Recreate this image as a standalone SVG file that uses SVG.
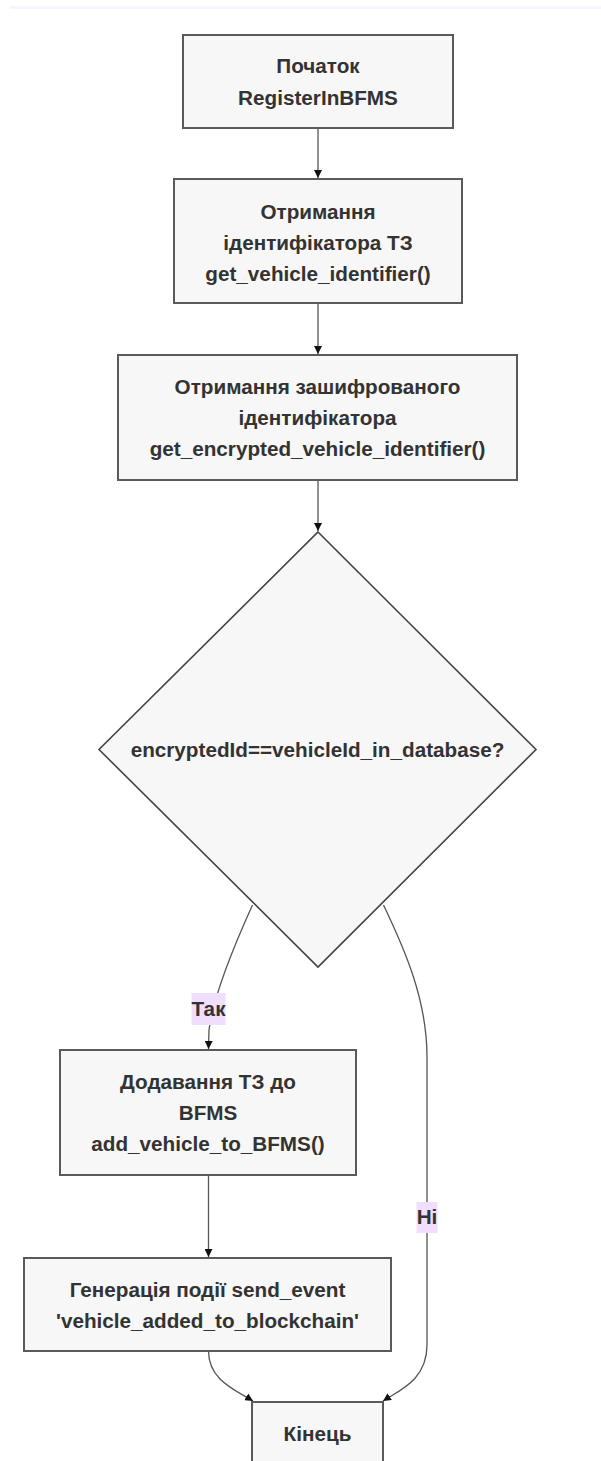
<svg xmlns="http://www.w3.org/2000/svg" width="601" height="1461" viewBox="0 0 601 1461">
  <style>
    .node rect, .node polygon { fill: #f7f7f7; stroke: #5a5a5a; stroke-width: 2; }
    .node polygon { stroke: #444; stroke-width: 1.6; }
    .node text, .label text { font-family: "Liberation Sans", Arial, sans-serif; font-weight: bold; font-size: 20.7px; fill: #333; text-anchor: middle; }
    .edge { fill: none; stroke: #555; stroke-width: 1.3; marker-end: url(#arrow); }
    .label rect { fill: #f1defc; }
  </style>
  <defs>
    <marker id="arrow" viewBox="0 0 10 10" refX="10" refY="5" markerWidth="8" markerHeight="8" markerUnits="userSpaceOnUse" orient="auto">
      <path d="M0,0 L10,5 L0,10 z" fill="#111"/>
    </marker>
  </defs>

  <rect x="0" y="0" width="601" height="1461" fill="#ffffff"/>
  <rect x="10" y="6" width="591" height="3" fill="#f5f7fe"/>

  <!-- connectors -->
  <g id="edges">
    <path class="edge" d="M318,128 L318,178"/>
    <path class="edge" d="M318,303 L318,354"/>
    <path class="edge" d="M318,480 L318,531"/>
    <path class="edge" d="M252.5,905 Q214,990 209,1030 L208.5,1049"/>
    <path class="edge" d="M208.5,1175 L208.5,1257"/>
    <path class="edge" d="M383.5,905 C405,950 427,1000 427,1057 L427,1345 C427,1380 400,1390 383,1401"/>
    <path class="edge" d="M208.5,1351 C208.5,1380 235,1390 253,1401"/>
  </g>

  <!-- edge labels -->
  <g id="label-yes" class="label">
    <rect x="191.5" y="993" width="34" height="32"/>
    <text x="208.5" y="1016.4">Так</text>
  </g>
  <g id="label-no" class="label">
    <rect x="416.5" y="1202" width="21" height="31"/>
    <text x="427" y="1224.4">Ні</text>
  </g>

  <!-- nodes -->
  <g id="start" class="node">
    <rect x="183" y="35" width="270" height="93"/>
    <text x="318" y="73">Початок</text>
    <text x="318" y="104.5">RegisterInBFMS</text>
  </g>

  <g id="get-id" class="node">
    <rect x="174" y="179" width="288" height="124"/>
    <text x="318" y="218.5">Отримання</text>
    <text x="318" y="249.5">ідентифікатора ТЗ</text>
    <text x="318" y="280.5">get_vehicle_identifier()</text>
  </g>

  <g id="get-encrypted-id" class="node">
    <rect x="118" y="355" width="399" height="125"/>
    <text x="317.5" y="394">Отримання зашифрованого</text>
    <text x="317.5" y="425">ідентифікатора</text>
    <text x="317.5" y="456">get_encrypted_vehicle_identifier()</text>
  </g>

  <g id="check" class="node">
    <polygon points="318,532 536,749.5 318,967 99,749.5"/>
    <text x="317.5" y="756.5">encryptedId==vehicleId_in_database?</text>
  </g>

  <g id="add-vehicle" class="node">
    <rect x="60" y="1050" width="296" height="125"/>
    <text x="208" y="1089">Додавання ТЗ до</text>
    <text x="208" y="1120">BFMS</text>
    <text x="208" y="1151">add_vehicle_to_BFMS()</text>
  </g>

  <g id="send-event" class="node">
    <rect x="24" y="1258" width="367" height="93"/>
    <text x="207.5" y="1296.5">Генерація події send_event</text>
    <text x="207.5" y="1327.5">'vehicle_added_to_blockchain'</text>
  </g>

  <g id="end" class="node">
    <rect x="252" y="1402" width="131" height="64"/>
    <text x="317.5" y="1441">Кінець</text>
  </g>
</svg>
